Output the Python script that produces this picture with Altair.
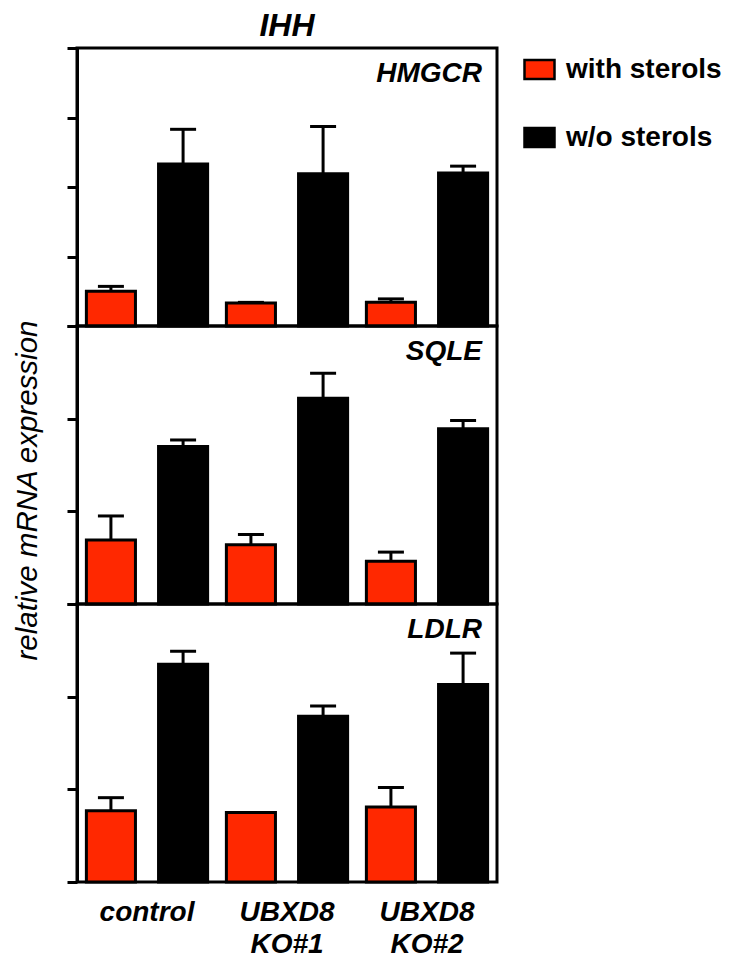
import altair as alt
import pandas as pd

genes = ["HMGCR", "SQLE", "LDLR"]
lines = ["control", "UBXD8 KO#1", "UBXD8 KO#2"]
conditions = ["with sterols", "w/o sterols"]

with_mean = {"HMGCR": [0.50, 0.33, 0.34], "SQLE": [0.69, 0.64, 0.46], "LDLR": [0.77, 0.75, 0.81]}
with_err = {"HMGCR": [0.07, 0.01, 0.05], "SQLE": [0.26, 0.11, 0.10], "LDLR": [0.14, 0.00, 0.21]}
wo_mean = {"HMGCR": [2.33, 2.19, 2.20], "SQLE": [1.70, 2.22, 1.89], "LDLR": [2.35, 1.79, 2.13]}
wo_err = {"HMGCR": [0.50, 0.68, 0.10], "SQLE": [0.07, 0.27, 0.09], "LDLR": [0.14, 0.11, 0.34]}
y_max = {"HMGCR": 4, "SQLE": 3, "LDLR": 3}

rows = []
for g in genes:
    for i, l in enumerate(lines):
        rows.append(dict(gene=g, line=l, cond=conditions[0], mean=with_mean[g][i],
                         top=with_mean[g][i] + with_err[g][i]))
        rows.append(dict(gene=g, line=l, cond=conditions[1], mean=wo_mean[g][i],
                         top=wo_mean[g][i] + wo_err[g][i]))
df = pd.DataFrame(rows)

colors = ["#FF2800", "#000000"]
FONT = "Liberation Sans"
PANEL_H = 278


def panel(g, idx):
    d = df[df.gene == g]
    base = alt.Chart(d)
    if idx == 2:
        xaxis = alt.Axis(title=None, ticks=False, domain=False, labelAngle=0,
                         labelFont=FONT, labelFontSize=28, labelFontWeight="bold",
                         labelFontStyle="italic", labelColor="black", labelPadding=16,
                         labelLineHeight=32,
                         labelExpr="split(datum.label, ' ')")
    else:
        xaxis = None
    x = alt.X("line:N", sort=lines, scale=alt.Scale(paddingInner=0, paddingOuter=0), axis=xaxis)
    xo = alt.XOffset("cond:N", sort=conditions,
                     scale=alt.Scale(paddingInner=0.32, paddingOuter=0.13))
    yaxis_kw = dict(values=list(range(y_max[g] + 1)), labels=False, ticks=True, tickSize=10,
                    tickWidth=3, tickColor="black", domain=True, domainColor="black",
                    domainWidth=3, grid=False)
    if idx == 1:
        yaxis = alt.Axis(title="relative mRNA expression", titleFont=FONT, titleFontSize=29.5,
                         titleFontWeight="normal", titleFontStyle="italic", titleColor="black",
                         titleX=-35, titleY=164, titleAlign="center", titleAngle=270,
                         **yaxis_kw)
    else:
        yaxis = alt.Axis(title=None, **yaxis_kw)
    yscale = alt.Scale(domain=[0, y_max[g]], nice=False, zero=True)

    bars = base.mark_bar(stroke="black", strokeWidth=3).encode(
        x=x, xOffset=xo,
        y=alt.Y("mean:Q", scale=yscale, axis=yaxis),
        color=alt.Color("cond:N", sort=conditions,
                        scale=alt.Scale(domain=conditions, range=colors),
                        legend=alt.Legend(title=None, orient="none", legendX=446, legendY=5,
                                          symbolType="M-1,-0.633H1V0.633H-1Z", symbolSize=900,
                                          symbolStrokeColor="black", symbolStrokeWidth=2.5,
                                          labelFont=FONT, labelFontSize=28,
                                          labelFontWeight="bold", labelColor="black",
                                          labelLimit=400,
                                          labelOffset=10, rowPadding=37, padding=0)),
    )
    rules = base.mark_rule(color="black", strokeWidth=3).encode(
        x=x, xOffset=xo, y="mean:Q", y2="top:Q")
    caps = base.mark_tick(color="black", thickness=3, size=26, opacity=1).encode(
        x=x, xOffset=xo, y="top:Q")
    label = alt.Chart(pd.DataFrame({"gene": [g]})).mark_text(
        align="right", baseline="alphabetic", font=FONT, fontSize=28, fontWeight="bold",
        fontStyle="italic", color="black").encode(
        x=alt.value(405), y=alt.value(34), text="gene:N")
    layer = alt.layer(rules, caps, bars, label).properties(width=420, height=PANEL_H)
    if idx == 0:
        layer = layer.properties(title=alt.TitleParams(
            "IHH", font=FONT, fontSize=32, fontWeight="bold", fontStyle="italic",
            color="black", anchor="middle", offset=4))
    return layer


chart = alt.vconcat(*[panel(g, i) for i, g in enumerate(genes)], spacing=0,
                    bounds="flush").properties(
    padding={"left": 2, "top": 0, "right": 0, "bottom": 0}, background="white"
).configure_view(stroke="black", strokeWidth=3)

chart.save("out.html", embed_options={"renderer": "svg", "actions": False})
